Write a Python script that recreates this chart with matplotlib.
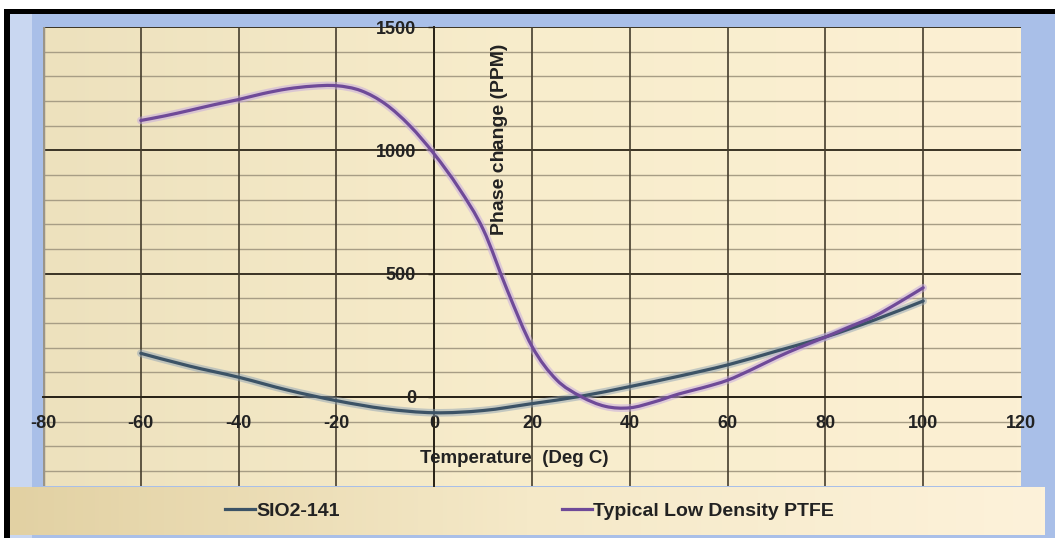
import numpy as np
import matplotlib
matplotlib.use('Agg')
import matplotlib.pyplot as plt
from matplotlib.patches import Rectangle, PathPatch
from matplotlib.path import Path
from matplotlib.lines import Line2D
from matplotlib.colors import LinearSegmentedColormap

plt.rcParams['font.family'] = ['Liberation Sans', 'DejaVu Sans']

# values
temp_sio2 = [-60, -50, -40, -30, -20, -10, 0, 10, 20, 30, 40, 50, 60, 70, 80, 90, 100]
ppm_sio2 = [177, 125, 80, 28, -15, -48, -64, -55, -27, 3, 42, 84, 130, 186, 243, 312, 389]

temp_ptfe = [-60, -55, -50, -45, -40, -35, -30, -25, -20, -15, -10, -5, 0, 5, 10, 15, 20,
             25, 30, 35, 40, 45, 50, 55, 60, 65, 70, 75, 80, 85, 90, 95, 100]
ppm_ptfe = [1121, 1140, 1162, 1185, 1206, 1230, 1249, 1260, 1262, 1242, 1188, 1100, 985,
            848, 680, 430, 205, 70, 2, -38, -44, -20, 12, 38, 68, 112, 160, 203, 243,
            285, 327, 383, 443]

series_names = ['SIO2-141', 'Typical Low Density PTFE']
x_ticks = [-80, -60, -40, -20, 0, 20, 40, 60, 80, 100, 120]
y_ticks = [0, 500, 1000, 1500]


def smooth_path(xs, ys):
    # Excel style "smoothed line": bezier segments through the points
    pts = np.column_stack([xs, ys]).astype(float)
    n = len(pts)
    verts = [pts[0]]
    codes = [Path.MOVETO]
    for i in range(n - 1):
        p0 = pts[i - 1] if i > 0 else pts[i]
        p1 = pts[i]
        p2 = pts[i + 1]
        p3 = pts[i + 2] if i + 2 < n else pts[i + 1]
        verts += [p1 + (p2 - p0) / 6, p2 - (p3 - p1) / 6, p2]
        codes += [Path.CURVE4] * 3
    return Path(verts, codes)


W, H = 1055, 538
fig = plt.figure(figsize=(W / 100, H / 100), dpi=100)
fig.patch.set_facecolor('white')

# black frame + blue chart background (drawn behind the axes)
fig.patches.append(Rectangle((4 / W, 0), 1, (H - 9) / H, transform=fig.transFigure,
                             facecolor='black', edgecolor='none', zorder=-5))
fig.patches.append(Rectangle((10 / W, 0), 1, (H - 14) / H, transform=fig.transFigure,
                             facecolor='#a9bfe8', edgecolor='none', zorder=-4))
fig.patches.append(Rectangle((10 / W, 0), 22 / W, (H - 14) / H, transform=fig.transFigure,
                             facecolor='#c9d7f1', edgecolor='none', zorder=-3))

# plot area
ax = fig.add_axes([43 / W, (H - 486) / H, (1021 - 43) / W, (486 - 27) / H])
ax.set_xlim(-80, 120)
ax.set_ylim(-361, 1500)

plot_cmap = LinearSegmentedColormap.from_list('plotbg', ['#ede1bd', '#f8edcc', '#fcf0d4'])
ax.imshow(np.linspace(0, 1, 256).reshape(1, -1), cmap=plot_cmap, aspect='auto',
          extent=[-80, 120, -361, 1500], zorder=0)

# gridlines
for yy in range(-300, 1501, 100):
    if yy % 500 == 0:
        ax.axhline(yy, color='#3a3324', lw=1.4, zorder=1)
    else:
        ax.axhline(yy, color='#a79d85', lw=1.0, zorder=1)
for xx in x_ticks[1:-1]:
    ax.axvline(xx, color='#453d2d', lw=1.2, zorder=1)
ax.axvline(-80, color='#9a9488', lw=2.5, zorder=1)

# axes cross at 0
for s in ['top', 'right']:
    ax.spines[s].set_visible(False)
ax.spines['left'].set_position(('data', 0))
ax.spines['bottom'].set_position(('data', 0))
ax.spines['left'].set_color('#2a2418')
ax.spines['bottom'].set_color('#2a2418')
ax.spines['left'].set_linewidth(1.4)
ax.spines['bottom'].set_linewidth(1.4)

ax.set_xticks(x_ticks)
ax.set_xticklabels([str(t) for t in x_ticks])
ax.set_yticks(y_ticks)
ax.set_yticklabels([str(t) for t in y_ticks])
ax.tick_params(axis='x', length=0, pad=13, labelsize=13, labelcolor='#222222')
ax.tick_params(axis='y', length=4, width=1, color='#2a2418', pad=9, labelsize=13,
               labelcolor='#222222')
for lab in ax.get_xticklabels() + ax.get_yticklabels():
    lab.set_fontweight('bold')

# data lines (smoothed) with a soft glow like the original
colors = ['#3c5366', '#6f4a98']
glows = ['#8fa3b5', '#c3a6e0']
for xs, ys, c, g in [(temp_sio2, ppm_sio2, colors[0], glows[0]),
                     (temp_ptfe, ppm_ptfe, colors[1], glows[1])]:
    ax.add_patch(PathPatch(smooth_path(xs, ys), fill=False, edgecolor=g, lw=5.5,
                           alpha=0.5, zorder=3, capstyle='round'))
    ax.add_patch(PathPatch(smooth_path(xs, ys), fill=False, edgecolor=c, lw=2.3,
                           zorder=4, capstyle='round'))

# axis titles placed inside the plot like the original
ax.text(13.4, 1043, 'Phase change (PPM)', rotation=90, ha='center', va='center',
        fontsize=14, fontweight='bold', color='#222222', zorder=5)
ax.text(16.3, -248, 'Temperature  (Deg C)', ha='center', va='center',
        fontsize=13.5, fontweight='bold', color='#222222', zorder=5)

# legend box along the bottom
ax_leg = fig.add_axes([10 / W, 3 / H, 1035 / W, 48 / H])
ax_leg.set_xlim(0, 1)
ax_leg.set_ylim(0, 1)
ax_leg.axis('off')
leg_cmap = LinearSegmentedColormap.from_list('legbg', ['#e2d1a3', '#f5e9c8', '#fdf2da'])
ax_leg.imshow(np.linspace(0, 1, 256).reshape(1, -1), cmap=leg_cmap, aspect='auto',
              extent=[0, 1, 0, 1], zorder=0)
handles = [Line2D([], [], color=colors[0], lw=2.3, label=series_names[0]),
           Line2D([], [], color=colors[1], lw=2.3, label=series_names[1])]
ax_leg.legend(handles=handles, loc='center', bbox_to_anchor=(0.502, 0.5), ncol=2,
              frameon=False, handlelength=1.55, handletextpad=0.08, columnspacing=11.4,
              prop={'size': 14, 'weight': 'bold'}, labelcolor='#222222')

fig.savefig('out.png', dpi=100, facecolor=fig.get_facecolor())
